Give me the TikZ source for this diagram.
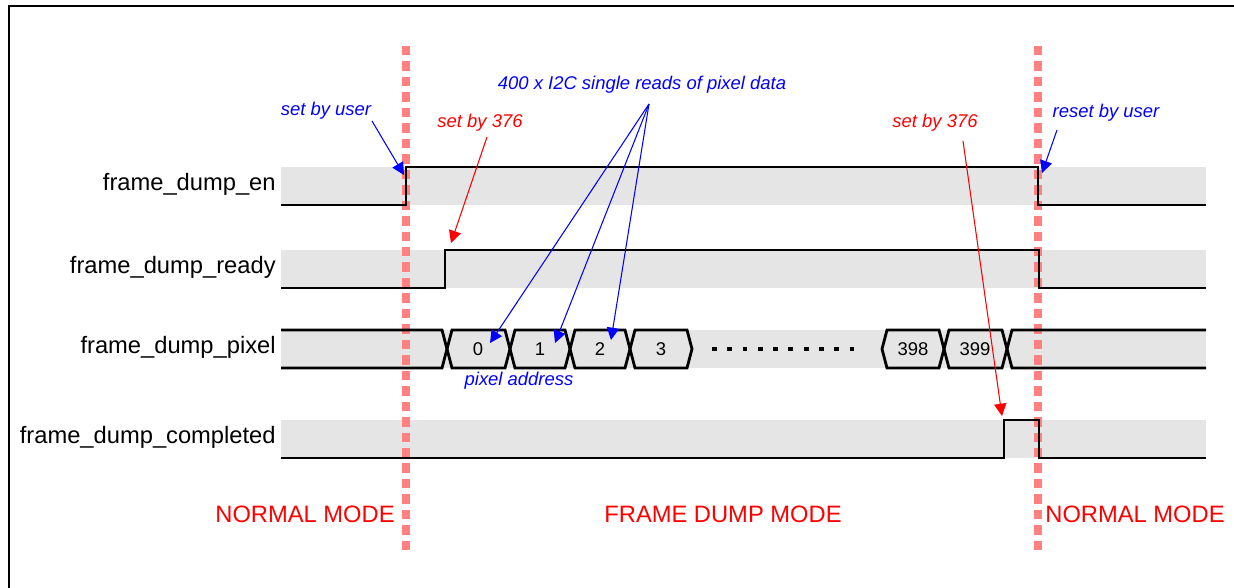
\documentclass[tikz,border=0pt]{standalone}
\usepackage{fontspec}
\setmainfont{Liberation Sans}
\usetikzlibrary{arrows.meta}

\definecolor{bandgray}{RGB}{229,229,229}
\definecolor{modered}{RGB}{255,128,128}
\definecolor{notered}{RGB}{255,0,0}
\definecolor{noteblue}{RGB}{0,0,255}

\begin{document}
\begin{tikzpicture}[x=0.02cm, y=-0.02cm, line join=miter,
  sig label/.style={anchor=east, inner sep=0pt, font=\fontsize{13.5}{16}\selectfont},
  mode label/.style={inner sep=0pt, text=notered, font=\fontsize{13.5}{16}\selectfont},
  note/.style={inner sep=0pt, font=\fontsize{10.5}{12}\selectfont\itshape},
  cell/.style={inner sep=0pt, font=\fontsize{10.5}{12}\selectfont},
  wave/.style={line width=1.6pt},
  mode line/.style={draw=modered, line width=4.5pt, dash pattern=on 5.4pt off 3.4pt}]
\useasboundingbox (0,0) rectangle (1234,588);
\draw[line width=1.4pt] (9,588) -- (9,6) -- (1234,6);

% signal bands
\foreach \y in {167,250,330,420}
  \fill[bandgray] (281,\y) rectangle (1206,\y+38);

% mode borders
\draw[mode line] (406,46) -- (406,550);
\draw[mode line] (1038,46) -- (1038,550);

% waves
\draw[wave] (281,205) -- (406,205) -- (406,167) -- (1038,167) -- (1038,205) -- (1206,205);
\draw[wave] (281,288) -- (445,288) -- (445,250) -- (1039,250) -- (1039,288) -- (1206,288);
\draw[wave] (281,458) -- (1004,458) -- (1004,420) -- (1039,420) -- (1039,458) -- (1206,458);
\draw[wave] (281,330) -- (442,330) -- (447,349) -- (442,368) -- (281,368);
\foreach \a/\b in {447/510, 510/570, 570/630, 630/692, 882/944, 944/1007}
  \draw[wave] (\a,349) -- (\a+5,330) -- (\b-5,330) -- (\b,349) -- (\b-5,368) -- (\a+5,368) -- cycle;
\draw[wave] (1206,330) -- (1012,330) -- (1007,349) -- (1012,368) -- (1206,368);
\draw[line width=1.8pt, dash pattern=on 2.8pt off 5.9pt] (712,349) -- (855,349);

\begin{scope}[every node/.style={sig label}]
\node (en) at (276,184) {frame\_dump\_en};
\node (ready) at (276,267) {frame\_dump\_ready};
\node (pixel) at (276,347) {frame\_dump\_pixel};
\node (completed) at (276,437) {frame\_dump\_completed};
\end{scope}

\begin{scope}[every node/.style={cell}]
\node (p0) at (478,349) {0};
\node (p1) at (540,349) {1};
\node (p2) at (600,349) {2};
\node (p3) at (661,349) {3};
\node (p398) at (913,349) {398};
\node (p399) at (975,349) {399};
\end{scope}

\node[mode label] (normleft) at (305,514) {NORMAL MODE};
\node[mode label] (dumpmode) at (723,514) {FRAME DUMP MODE};
\node[mode label] (normright) at (1135,514) {NORMAL MODE};

\node[note, text=noteblue] (setuser) at (326,111) {set by user};
\node[note, text=notered] (setready) at (480,123) {set by 376};
\node[note, text=noteblue] (reads) at (642,85) {400 x I2C single reads of pixel data};
\node[note, text=notered] (setdone) at (935,123) {set by 376};
\node[note, text=noteblue] (resetuser) at (1106,113) {reset by user};
\node[note, text=noteblue] (pixaddr) at (519,381) {pixel address};

% arrow ends
\coordinate (usersrc) at (372,121);
\coordinate (usertip) at (404,175);
\coordinate (readysrc) at (487,137);
\coordinate (readytip) at (451,243);
\coordinate (fan) at (649,104);
\coordinate (tip0) at (490,343);
\coordinate (tip1) at (555,343);
\coordinate (tip2) at (611,340);
\coordinate (donesrc) at (963,141);
\coordinate (donetip) at (1002,416);
\coordinate (resetsrc) at (1057,130);
\coordinate (resettip) at (1042,173);

\begin{scope}[every edge/.style={draw, line width=0.6pt, -{Triangle[length=7pt,width=7pt]}}]
\draw (usersrc) edge[noteblue] (usertip);
\draw (readysrc) edge[notered] (readytip);
\draw (fan) edge[noteblue] (tip0);
\draw (fan) edge[noteblue] (tip1);
\draw (fan) edge[noteblue] (tip2);
\draw (donesrc) edge[notered] (donetip);
\draw (resetsrc) edge[noteblue] (resettip);
\end{scope}
\end{tikzpicture}
\end{document}
